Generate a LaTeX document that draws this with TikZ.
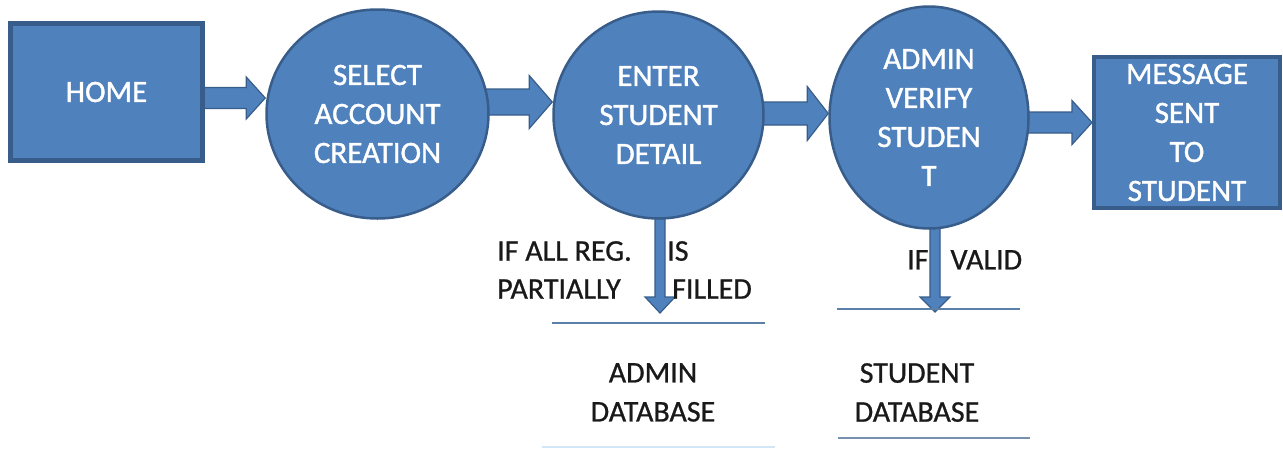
\documentclass[tikz,border=0pt]{standalone}
\usepackage{fontspec}
\setmainfont{Carlito}
\newfontfamily\shapefont{Carlito}[FakeBold=1.2]
\newfontfamily\notefont{Carlito}[FakeBold=0.8]
\usetikzlibrary{shapes.geometric,backgrounds,calc}
\definecolor{boxfill}{HTML}{4F81BD}
\definecolor{boxline}{HTML}{385D8A}
\definecolor{dbline}{HTML}{5A7FA8}
\definecolor{dbfaint}{HTML}{D3E6F6}
\definecolor{dbgray}{HTML}{7890AD}
\newcommand\harrow[5]{\path[blockarrow] let \p1=#1, \p2=#2 in
  (\x1,\y1+#3pt) -- (\x2-#5pt,\y1+#3pt) -- (\x2-#5pt,\y1+#4pt) -- (\x2,\y1)
  -- (\x2-#5pt,\y1-#4pt) -- (\x2-#5pt,\y1-#3pt) -- (\x1,\y1-#3pt) -- cycle;}
\newcommand\varrow[5]{\path[blockarrow] let \p1=#1, \p2=#2 in
  (\x1-#3pt,\y1) -- (\x1-#3pt,\y2+#5pt) -- (\x1-#4pt,\y2+#5pt) -- (\x1,\y2)
  -- (\x1+#4pt,\y2+#5pt) -- (\x1+#3pt,\y2+#5pt) -- (\x1+#3pt,\y1) -- cycle;}
\begin{document}
\begin{tikzpicture}[x=1pt,y=-1pt,
  shapetext/.style={text=white,font=\shapefont\fontsize{31}{39}\selectfont,align=center,inner sep=0pt},
  boxshape/.style={shapetext,rectangle,fill=boxfill,draw=boxline},
  ovalshape/.style={shapetext,ellipse,fill=boxfill,draw=boxline,line width=2.5pt},
  blockarrow/.style={fill=boxfill,draw=boxline,line width=1.2pt,line join=miter},
  lbltext/.style={text=black!90,font=\notefont\fontsize{30}{38}\selectfont,align=left,inner sep=0pt},
  dbtext/.style={lbltext,align=center,font=\notefont\fontsize{30}{39}\selectfont},
  dbrule/.style={draw=dbline,line width=2pt}]
\useasboundingbox (0,0) rectangle (1283,448);

% main shapes
\node[boxshape,line width=5pt,minimum width=192pt,minimum height=137pt] (home) at (106.5,92) {HOME};
\node[ovalshape,minimum width=222pt,minimum height=209pt] (sel) at (377.5,114) {SELECT\\ACCOUNT\\CREATION};
\node[ovalshape,minimum width=210pt,minimum height=207pt] (ent) at (658.5,115) {ENTER\\STUDENT\\DETAIL};
\node[ovalshape,minimum width=199pt,minimum height=222pt] (adm) at (929,117.5) {ADMIN\\VERIFY\\STUDEN\\T};
\node[boxshape,line width=4pt,minimum width=186pt,minimum height=151pt] (msg) at (1187,132.5) {MESSAGE\\SENT\\TO\\STUDENT};

% helper coordinates
\coordinate (r1) at (0,98);
\coordinate (r2) at (0,102);
\coordinate (r3) at (0,113.5);
\coordinate (r4) at (0,122.5);
\coordinate (d1) at (660,313);
\coordinate (d2) at (935,312);

% connectors
\begin{scope}[on background layer]
\harrow{(home.center |- r1)}{(sel.west |- r1)}{10.5}{21}{19}
\harrow{(sel.center |- r2)}{(ent.west |- r2)}{13}{26.5}{23}
\harrow{(ent.center |- r3)}{(adm.west |- r3)}{11.5}{27}{21}
\harrow{(adm.center |- r4)}{(msg.west |- r4)}{10.5}{22}{20}
\varrow{(d1 |- ent.center)}{(d1)}{5}{15}{16}
\varrow{(d2 |- adm.center)}{(d2)}{5}{15}{15}
\end{scope}

% condition labels
\node[lbltext,anchor=north west] (c1) at (497,241) {IF ALL REG.\\PARTIALLY};
\node[lbltext,anchor=north west] (c2) at (667,241) {IS\\\hspace{5pt}FILLED};
\node[lbltext,anchor=north west] (c3) at (907,250) {IF\hspace{22pt}VALID};

% data stores
\draw[dbrule] (552,323) -- (765,323);
\draw[dbrule,draw=dbfaint] (542,447) -- (775,447);
\node[dbtext,anchor=north] (db1) at (653,363) {ADMIN\\DATABASE};
\draw[dbrule] (837,309) -- (1020,309);
\draw[dbrule,draw=dbgray,line width=2.5pt] (838,438) -- (1030,438);
\node[dbtext,anchor=north] (db2) at (917,363) {STUDENT\\DATABASE};
\end{tikzpicture}
\end{document}
